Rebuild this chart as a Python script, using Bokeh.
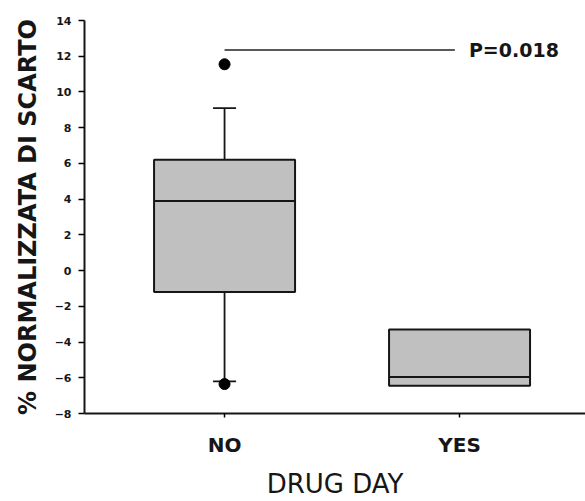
from bokeh.plotting import figure
from bokeh.models import FixedTicker, Range1d
from bokeh.core.properties import value
from bokeh.embed import file_html
from bokeh.resources import INLINE

categories = ["NO", "YES"]
q1 = [-1.2, -6.45]
median = [3.9, -5.95]
q3 = [6.2, -3.3]
whisker_low = [-6.2, -6.45]
whisker_high = [9.1, -3.3]
outlier_cat = [1, 1]
outlier_val = [11.55, -6.35]
p_text = "P=0.018"
p_level = 12.35
y_ticks = list(range(-8, 15, 2))
x_title = "DRUG DAY"
y_title = "% NORMALIZZATA DI SCARTO"

FONT = "DejaVu Sans"
INK = "#161616"
xs = [i + 1 for i in range(len(categories))]

p = figure(width=585, height=501, output_backend="svg", toolbar_location=None,
           x_range=Range1d(0.404, 2.536), y_range=Range1d(-8, 14),
           min_border_left=84, min_border_right=0, min_border_top=20, min_border_bottom=88)
p.outline_line_color = None
p.grid.grid_line_color = None
p.background_fill_color = "white"
p.border_fill_color = "white"

bw = 0.6
cap = 0.049
# whiskers
for x, lo, hi, a, b in zip(xs, whisker_low, whisker_high, q1, q3):
    if hi > b:
        p.segment(x0=[x], y0=[b], x1=[x], y1=[hi], line_color=INK, line_width=1.8)
        p.segment(x0=[x - cap], y0=[hi], x1=[x + cap], y1=[hi], line_color=INK, line_width=1.8)
    if lo < a:
        p.segment(x0=[x], y0=[lo], x1=[x], y1=[a], line_color=INK, line_width=1.8)
        p.segment(x0=[x - cap], y0=[lo], x1=[x + cap], y1=[lo], line_color=INK, line_width=1.8)

p.vbar(x=xs, width=bw, bottom=q1, top=q3, fill_color="#c0c0c0",
       line_color=INK, line_width=2)
p.segment(x0=[x - bw / 2 for x in xs], y0=median, x1=[x + bw / 2 for x in xs], y1=median,
          line_color=INK, line_width=2)

p.scatter(x=outlier_cat, y=outlier_val, size=11, color="black")

# significance line
p.segment(x0=[xs[0]], y0=[p_level], x1=[xs[1] - 0.02], y1=[p_level], line_color="#222222", line_width=1.5)
p.text(x=[xs[1] + 0.04], y=[p_level], text=[p_text], text_font=value(FONT),
       text_font_style="bold", text_font_size="19px", text_baseline="middle",
       text_color=INK)

# axes
p.yaxis.ticker = FixedTicker(ticks=y_ticks)
p.yaxis.minor_tick_line_color = None
p.yaxis.major_tick_out = 6
p.yaxis.major_tick_in = 0
p.yaxis.major_tick_line_width = 1.5
p.yaxis.major_label_text_font = FONT
p.yaxis.major_label_text_font_style = "bold"
p.yaxis.major_label_text_font_size = "11px"
p.yaxis.major_label_text_color = INK
p.yaxis.major_label_standoff = 7
p.yaxis.axis_line_width = 2
p.yaxis.axis_line_color = INK
p.yaxis.axis_label = y_title
p.yaxis.axis_label_text_font = FONT
p.yaxis.axis_label_text_font_style = "bold"
p.yaxis.axis_label_text_font_size = "24px"
p.yaxis.axis_label_standoff = 10
p.yaxis.axis_label_text_color = INK

p.xaxis.ticker = FixedTicker(ticks=xs)
p.xaxis.major_label_overrides = {x: c for x, c in zip(xs, categories)}
p.xaxis.minor_tick_line_color = None
p.xaxis.major_tick_out = 4
p.xaxis.major_tick_in = 0
p.xaxis.major_tick_line_width = 1.5
p.xaxis.axis_line_width = 2
p.xaxis.axis_line_color = INK
p.xaxis.major_label_text_font = FONT
p.xaxis.major_label_text_font_style = "bold"
p.xaxis.major_label_text_font_size = "20px"
p.xaxis.major_label_standoff = 15
p.xaxis.major_label_text_color = INK
p.xaxis.axis_label = x_title
p.xaxis.axis_label_text_font = FONT
p.xaxis.axis_label_text_font_style = "normal"
p.xaxis.axis_label_text_font_size = "26px"
p.xaxis.axis_label_standoff = 9
p.xaxis.axis_label_text_color = INK

open("out.html", "w").write(file_html(p, INLINE))
